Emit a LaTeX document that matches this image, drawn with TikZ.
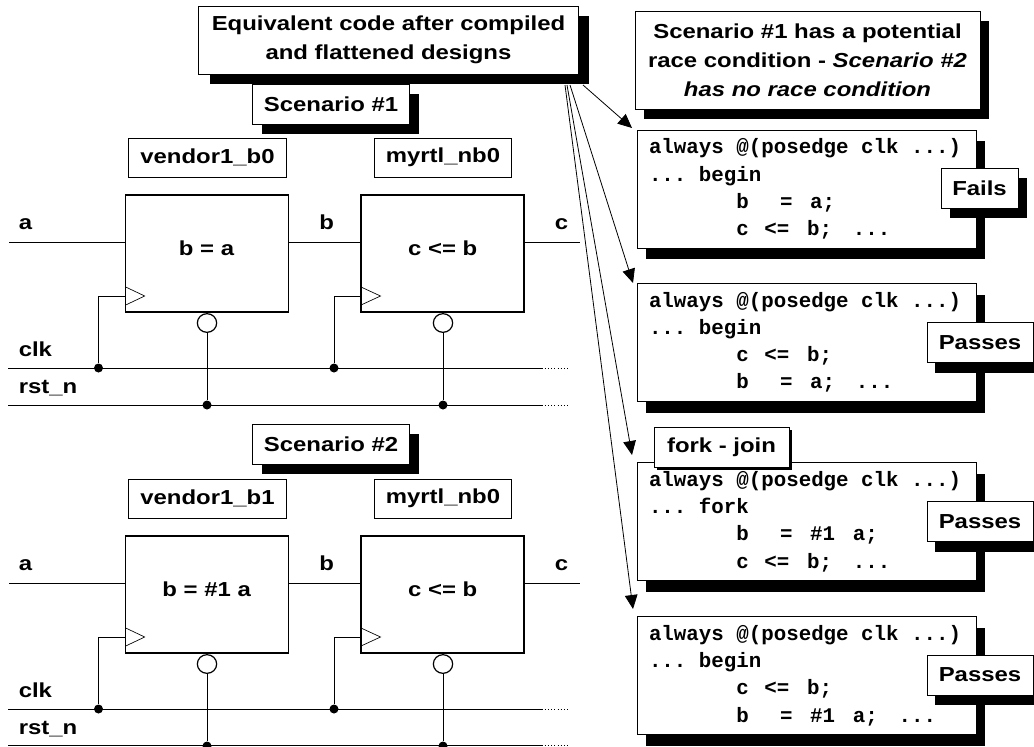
\documentclass[tikz,border=0pt]{standalone}
\usepackage{fontspec}
\setmainfont{Liberation Sans}
\setmonofont{Liberation Mono}
\newfontfamily\widefont[FakeStretch=1.18]{Liberation Sans}
\newcommand{\gp}[1][0.6em]{\hspace*{#1}}
\usepackage{tikz}
\usetikzlibrary{arrows.meta, calc, positioning, shadows, shapes.geometric}

\tikzset{
    solidshadow/.style 2 args={drop shadow={shadow xshift=#1, shadow yshift=#2, opacity=1, fill=black}},
    plainbox/.style={draw, fill=white, inner sep=0pt, line width=0.75pt, align=center, font=\widefont\bfseries\fontsize{15.2}{21.75}\selectfont},
    regbox/.style={draw, fill=white, inner sep=0pt, line width=1.2pt, minimum width=122pt, minimum height=87.75pt},
    codebox/.style={draw, fill=white, line width=0.75pt, inner xsep=9pt, inner ysep=0pt, text width=236.25pt, minimum height=88.5pt, align=left, solidshadow={6.75pt}{-8.25pt}, font=\ttfamily\bfseries\fontsize{15.6}{20.4}\selectfont},
    sigtext/.style={anchor=base west, inner sep=0pt, font=\widefont\bfseries\fontsize{15.2}{18}\selectfont},
    regtext/.style={inner sep=0pt, font=\widefont\bfseries\fontsize{15.2}{18}\selectfont},
    wire/.style={line width=0.75pt},
    tail/.style={dotted, line width=0.4pt},
    junction/.style={circle, fill=black, inner sep=0pt, minimum size=6.75pt},
    bubble/.style={ellipse, draw, fill=white, inner sep=0pt, line width=0.9pt, minimum width=14.5pt, minimum height=14pt},
    fanarrow/.style={line width=0.6pt, -{Triangle[length=10.5pt, width=9.5pt]}}
}

\begin{document}
\begin{tikzpicture}[x=0.75pt, y=-0.75pt]
    \path[use as bounding box, clip] (0, 0) rectangle (1034, 746);

    \node[plainbox, minimum width=118pt, minimum height=30pt, solidshadow={7pt}{-7.5pt}] (scenA) at (331, 104) {Scenario \#1};
    \node[plainbox, minimum width=284.5pt, minimum height=51pt, solidshadow={8pt}{-7.5pt}] (title) at (388.5, 40) {Equivalent code after compiled\\and flattened designs};
    \node[plainbox, minimum width=118.5pt, minimum height=29.25pt] (vendorA) at (207.5, 157.5) {vendor1\_b0};
    \node[plainbox, minimum width=103.3pt, minimum height=29.25pt] (myrtlA) at (443, 157.5) {myrtl\_nb0};
    \node[regbox] (regA) at (207, 253.5) {};
    \node[regbox] (regB) at (442.5, 253.5) {};
    \node[regtext] (regAtext) at (206.5, 248) {b = a};
    \node[regtext] (regBtext) at (442.7, 248) {c <= b};
    \node[sigtext] (aA) at (18.5, 229) {a};
    \node[sigtext] (bA) at (319, 229) {b};
    \node[sigtext] (cA) at (554.5, 229) {c};
    \node[sigtext] (clkA) at (18.5, 356) {clk};
    \node[sigtext] (rstA) at (18.5, 393) {rst\_n};
    \coordinate (ainA) at (9, 242);
    \coordinate (coutA) at (580, 242);
    \coordinate (ckA) at (125.7, 296);
    \coordinate (ckB) at (361, 296);
    \coordinate (clkinA) at (8, 368);
    \coordinate (clkoutA) at (541.5, 368);
    \coordinate (clkendA) at (568, 368);
    \coordinate (rstinA) at (8, 405);
    \coordinate (rstoutA) at (541.5, 405);
    \coordinate (rstendA) at (568, 405);
    \node[bubble] (bubA) at (207, 323) {};
    \node[bubble] (bubB) at (443, 323) {};
    \node[junction] (jclkA) at (98.5, 368) {};
    \node[junction] (jclkB) at (334, 368) {};
    \node[junction] (jrstA) at (207, 405) {};
    \node[junction] (jrstB) at (443, 405) {};
    \draw[wire]
    (ainA) -- (ainA -| regA.west)
    (ainA -| regA.east) -- (ainA -| regB.west)
    (ainA -| regB.east) -- (coutA)
    (clkinA) -- (clkoutA)
    (rstinA) -- (rstoutA)
    (jclkA) |- (ckA)
    (jclkB) |- (ckB)
    (bubA) -- (jrstA)
    (bubB) -- (jrstB);
    \draw[tail] (clkoutA) -- (clkendA) (rstoutA) -- (rstendA);
    \draw[line width=0.5pt] (125.7, 287) -- (144.7, 296) -- (125.7, 305) (361, 287) -- (380.5, 296) -- (361, 305);

    \node[plainbox, minimum width=118pt, minimum height=30pt, solidshadow={7pt}{-7.5pt}] (scenB) at (331, 444) {Scenario \#2};
    \node[plainbox, minimum width=118.5pt, minimum height=29.25pt] (vendorB) at (207.5, 498.5) {vendor1\_b1};
    \node[plainbox, minimum width=103.3pt, minimum height=29.25pt] (myrtlB) at (443, 498.5) {myrtl\_nb0};
    \node[regbox] (regC) at (207, 594.5) {};
    \node[regbox] (regD) at (442.5, 594.5) {};
    \node[regtext] (regCtext) at (206.7, 589) {b = \#1 a};
    \node[regtext] (regDtext) at (442.7, 589) {c <= b};
    \node[sigtext] (aB) at (18.5, 570) {a};
    \node[sigtext] (bB) at (319, 570) {b};
    \node[sigtext] (cB) at (554.5, 570) {c};
    \node[sigtext] (clkB) at (18.5, 697) {clk};
    \node[sigtext] (rstB) at (18.5, 734) {rst\_n};
    \coordinate (ainB) at (9, 583);
    \coordinate (coutB) at (580, 583);
    \coordinate (ckC) at (125.7, 637);
    \coordinate (ckD) at (361, 637);
    \coordinate (clkinB) at (8, 709);
    \coordinate (clkoutB) at (541.5, 709);
    \coordinate (clkendB) at (568, 709);
    \coordinate (rstinB) at (8, 745.5);
    \coordinate (rstoutB) at (541.5, 745.5);
    \coordinate (rstendB) at (568, 745.5);
    \node[bubble] (bubC) at (207, 664) {};
    \node[bubble] (bubD) at (443, 664) {};
    \node[junction] (jclkC) at (98.5, 709) {};
    \node[junction] (jclkD) at (334, 709) {};
    \node[junction] (jrstC) at (207, 746) {};
    \node[junction] (jrstD) at (443, 746) {};
    \draw[wire]
    (ainB) -- (ainB -| regC.west)
    (ainB -| regC.east) -- (ainB -| regD.west)
    (ainB -| regD.east) -- (coutB)
    (clkinB) -- (clkoutB)
    (rstinB) -- (rstoutB)
    (jclkC) |- (ckC)
    (jclkD) |- (ckD)
    (bubC) -- (jrstC)
    (bubD) -- (jrstD);
    \draw[tail] (clkoutB) -- (clkendB) (rstoutB) -- (rstendB);
    \draw[line width=0.5pt] (125.7, 628) -- (144.7, 637) -- (125.7, 646) (361, 628) -- (380.5, 637) -- (361, 646);

    \node[plainbox, minimum width=258.75pt, minimum height=73.5pt, solidshadow={6.75pt}{-7.5pt}] (race) at (807.5, 60) {Scenario \#1 has a potential\\race condition - \textit{Scenario \#2}\\\textit{has no race condition}};
    \node[codebox] (codeA) at (806.5, 189) {always\gp @(posedge\gp clk\gp ...)\\...\gp begin\\\gp[4.2em]b\gp[1.5em]=\gp[0.85em]a;\\\gp[4.2em]c\gp[0.75em]<=\gp[0.85em]b;\gp[1em]...};
    \node[codebox] (codeB) at (806.5, 342.5) {always\gp @(posedge\gp clk\gp ...)\\...\gp begin\\\gp[4.2em]c\gp[0.75em]<=\gp[0.85em]b;\\\gp[4.2em]b\gp[1.5em]=\gp[0.85em]a;\gp[1em]...};
    \node[codebox] (codeC) at (806.5, 521.5) {always\gp @(posedge\gp clk\gp ...)\\...\gp fork\\\gp[4.2em]b\gp[1.5em]=\gp[0.85em]\#1\gp[0.85em]a;\\\gp[4.2em]c\gp[0.75em]<=\gp[0.85em]b;\gp[1em]...};
    \node[codebox] (codeD) at (806.5, 675.5) {always\gp @(posedge\gp clk\gp ...)\\...\gp begin\\\gp[4.2em]c\gp[0.75em]<=\gp[0.85em]b;\\\gp[4.2em]b\gp[1.5em]=\gp[0.85em]\#1\gp[0.85em]a;\gp[1em]...};
    \node[plainbox, minimum width=57.75pt, minimum height=30pt, solidshadow={6.75pt}{-7.5pt}] (fails) at (979.5, 188) {Fails};
    \node[plainbox, minimum width=79.5pt, minimum height=30pt, solidshadow={6pt}{-7.5pt}] (passA) at (980, 342.5) {Passes};
    \node[plainbox, minimum width=79.5pt, minimum height=30pt, solidshadow={6pt}{-7.5pt}] (passB) at (980, 521.5) {Passes};
    \node[plainbox, minimum width=79.5pt, minimum height=30pt, solidshadow={6pt}{-7.5pt}] (passC) at (980, 675) {Passes};
    \node[plainbox, minimum width=101.25pt, minimum height=30pt, solidshadow={2.25pt}{-2.25pt}] (forkjoin) at (721.5, 447) {fork - join};

    \coordinate (fanA) at (583, 85);
    \coordinate (fanB) at (570, 85);
    \coordinate (fanC) at (567, 85);
    \coordinate (fanD) at (565, 85);
    \coordinate (hitA) at (632, 128);
    \coordinate (hitB) at (633, 283);
    \coordinate (hitC) at (632, 455);
    \coordinate (hitD) at (633, 609);
    \draw[fanarrow] (fanA) -- (hitA);
    \draw[fanarrow] (fanB) -- (hitB);
    \draw[fanarrow] (fanC) -- (hitC);
    \draw[fanarrow] (fanD) -- (hitD);
\end{tikzpicture}
\end{document}
